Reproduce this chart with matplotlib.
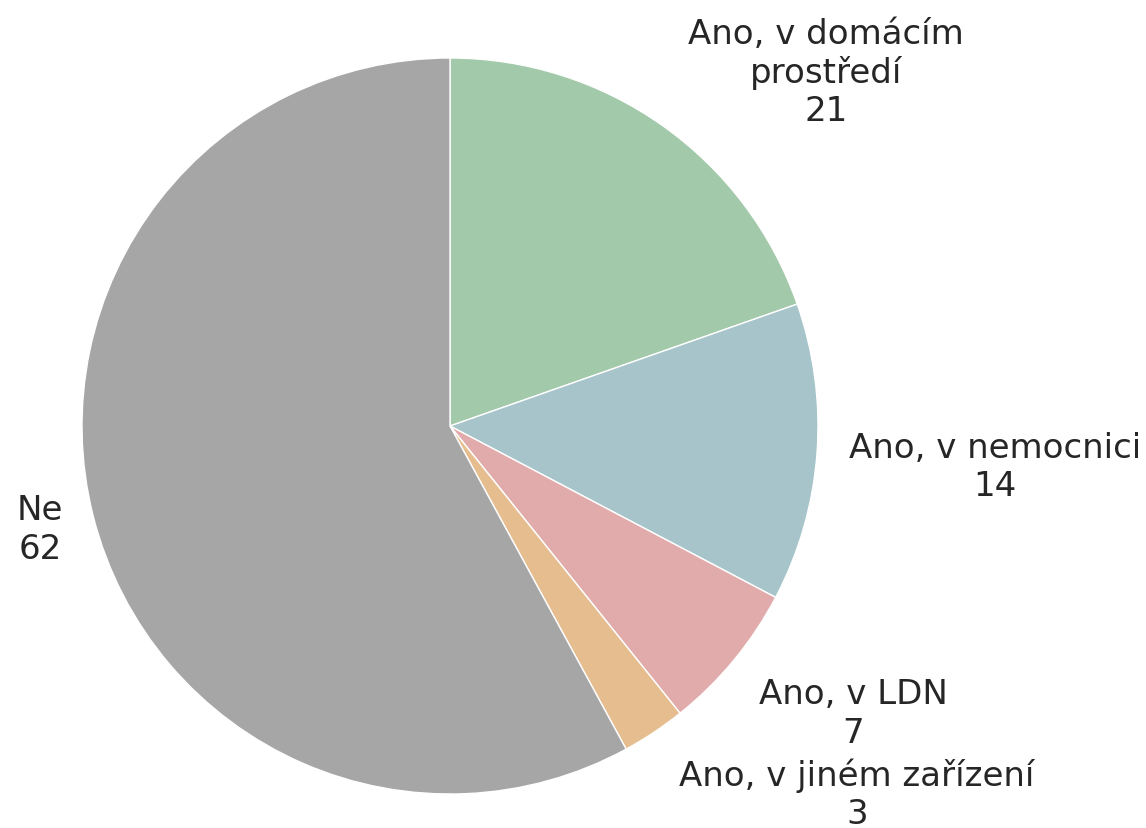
import matplotlib
matplotlib.use("Agg")
import matplotlib.pyplot as plt

labels = ["Ano, v domácím\nprostředí", "Ano, v nemocnici", "Ano, v LDN",
          "Ano, v jiném zařízení", "Ne"]
values = [21, 14, 7, 3, 62]
colors = ["#a3c9ab", "#a6c4c9", "#e1abab", "#e6bd8f", "#a6a6a6"]
# label anchor points in axes data units (pie radius = 1)
label_pos = [(1.022, 0.962), (1.481, -0.109), (1.095, -0.780),
             (1.106, -1.0), (-1.114, -0.280)]

fig = plt.figure(figsize=(11.46, 8.29), dpi=100)
ax = fig.add_axes([82 / 1146, 34 / 829, 736 / 1146, 736 / 829])
ax.pie(values, colors=colors, startangle=90, counterclock=False,
       wedgeprops=dict(edgecolor="white", linewidth=1))
ax.set_xlim(-1, 1)
ax.set_ylim(-1, 1)
ax.set_aspect("equal")

for lab, val, (x, y) in zip(labels, values, label_pos):
    ax.text(x, y, f"{lab}\n{val}", ha="center", va="center",
            fontsize=24.5, color="#262626", family="DejaVu Sans",
            linespacing=1.2, clip_on=False)

fig.savefig("out.png", dpi=100)
